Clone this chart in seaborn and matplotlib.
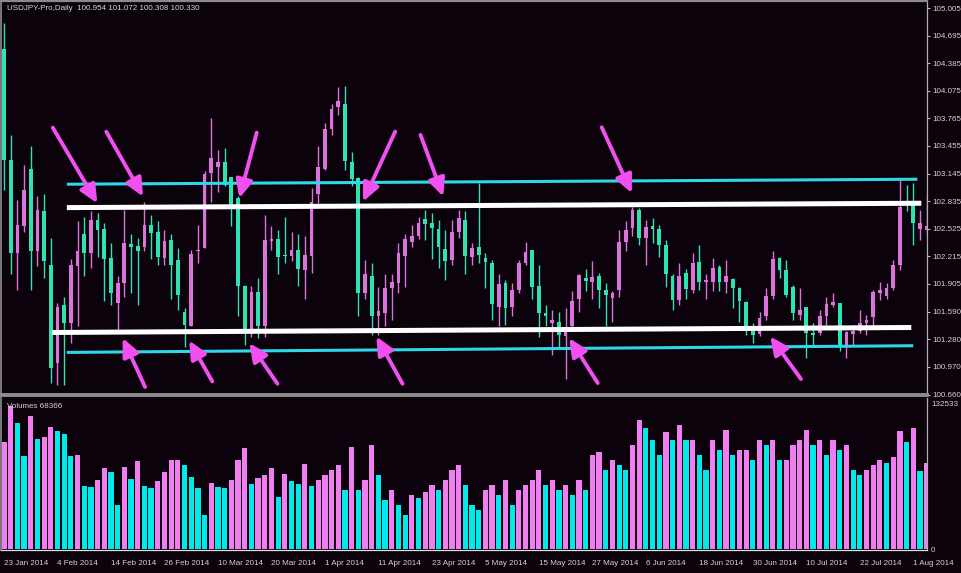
import numpy as np
import pandas as pd
import seaborn as sns
import matplotlib
matplotlib.use("Agg")
import matplotlib.pyplot as plt

# 日线K线数据
opens = [104.55, 103.30, 102.25, 102.55, 103.20, 102.27, 102.72, 102.12, 101.01, 101.67,
         101.46, 102.10, 102.47, 102.25, 102.62, 102.52, 102.19, 101.69, 101.91, 102.35,
         102.33, 102.32, 102.57, 102.49, 102.19, 102.40, 102.17, 101.59, 101.43, 102.27,
         102.31, 103.15, 103.22, 103.28, 103.11, 102.87, 101.88, 101.39, 101.81, 101.43,
         102.39, 102.41, 102.23, 102.22, 102.29, 102.06, 102.22, 102.92, 103.20, 103.65,
         103.89, 103.93, 103.28, 103.10, 101.80, 101.99, 101.54, 101.58, 101.86, 101.91,
         102.22, 102.38, 102.44, 102.63, 102.59, 102.52, 102.30, 102.17, 102.49, 102.62,
         102.21, 102.32, 102.19, 102.14, 101.65, 101.91, 101.65, 101.84, 102.14, 102.28,
         101.88, 101.58, 101.47, 101.48, 101.32, 101.43, 101.73, 101.97, 101.93, 101.99,
         101.84, 101.75, 101.84, 102.38, 102.53, 102.74, 102.42, 102.55, 102.52, 102.34,
         101.99, 101.72, 102.03, 101.84, 102.15, 101.92, 101.93, 102.09, 101.92, 101.96,
         101.86, 101.70, 101.37, 101.34, 101.54, 101.77, 102.20, 102.06, 101.87, 101.55,
         101.64, 101.35, 101.35, 101.54, 101.67, 101.69, 101.22, 101.34, 101.38, 101.46,
         101.53, 101.80, 101.77, 101.86, 102.12, 102.83, 102.83, 102.52, 102.51]
highs = [104.84, 103.58, 102.85, 103.24, 103.45, 102.89, 102.92, 102.42, 101.69, 101.76,
         102.18, 102.61, 102.66, 102.72, 102.70, 102.59, 102.36, 101.99, 102.74, 102.47,
         102.42, 102.83, 102.68, 102.61, 102.51, 102.46, 102.31, 101.63, 102.29, 102.57,
         103.17, 103.77, 103.41, 103.43, 103.11, 102.89, 101.89, 101.88, 101.97, 102.68,
         102.55, 102.51, 102.66, 102.49, 102.47, 102.44, 102.98, 103.45, 103.71, 103.93,
         104.12, 104.13, 103.39, 103.11, 102.17, 102.14, 101.87, 102.02, 102.01, 102.36,
         102.47, 102.57, 102.66, 102.74, 102.70, 102.62, 102.51, 102.62, 102.74, 102.72,
         102.36, 103.04, 102.25, 102.17, 102.01, 101.95, 101.91, 102.17, 102.38, 102.29,
         102.12, 101.67, 101.61, 101.59, 101.63, 101.82, 102.01, 102.07, 102.16, 102.03,
         101.91, 101.82, 102.51, 102.61, 102.77, 102.76, 102.62, 102.64, 102.57, 102.40,
         102.01, 102.14, 102.07, 102.25, 102.34, 102.01, 102.19, 102.12, 102.17, 101.97,
         101.87, 101.71, 101.46, 101.59, 101.86, 102.27, 102.21, 102.17, 101.89, 101.86,
         101.65, 101.46, 101.61, 101.76, 101.80, 101.69, 101.37, 101.44, 101.61, 101.56,
         101.84, 101.93, 101.91, 102.17, 103.07, 103.02, 103.04, 102.74, 102.92]
lows = [102.96, 102.01, 101.84, 102.49, 101.84, 102.10, 101.97, 100.79, 100.77, 100.77,
        101.24, 101.43, 101.99, 102.08, 102.21, 101.71, 101.67, 101.39, 101.76, 101.80,
        101.67, 102.27, 102.18, 102.12, 102.12, 101.73, 101.61, 101.20, 101.43, 102.14,
        102.31, 102.83, 102.94, 103.00, 102.55, 101.54, 101.22, 101.31, 101.30, 101.31,
        102.29, 102.01, 102.14, 102.16, 101.88, 101.73, 102.03, 102.81, 103.18, 103.58,
        103.80, 103.19, 103.00, 101.54, 101.73, 101.33, 101.33, 101.43, 101.50, 101.80,
        101.87, 102.32, 102.41, 102.40, 102.18, 102.08, 101.95, 102.12, 102.42, 102.01,
        102.12, 102.14, 101.86, 101.50, 101.43, 101.44, 101.54, 101.80, 102.12, 101.73,
        101.31, 101.43, 101.11, 101.18, 100.83, 101.39, 101.59, 101.82, 101.73, 101.63,
        101.43, 101.48, 101.76, 102.27, 102.44, 102.34, 102.12, 102.36, 102.21, 101.87,
        101.61, 101.67, 101.73, 101.80, 101.84, 101.74, 101.82, 101.82, 101.80, 101.63,
        101.48, 101.33, 101.24, 101.32, 101.50, 101.74, 101.97, 101.76, 101.50, 101.50,
        101.07, 101.22, 101.33, 101.44, 101.65, 101.15, 101.07, 101.22, 101.35, 101.33,
        101.44, 101.72, 101.74, 101.84, 102.06, 102.72, 102.34, 102.40, 102.45]
closes = [103.30, 102.25, 102.57, 102.96, 102.27, 102.74, 102.16, 100.96, 101.65, 101.46,
          102.12, 102.27, 102.25, 102.62, 102.51, 102.18, 101.80, 101.91, 102.36, 102.32,
          102.27, 102.57, 102.48, 102.21, 102.39, 102.12, 101.78, 101.44, 102.24, 102.29,
          103.14, 103.32, 103.28, 103.02, 102.79, 101.88, 101.35, 101.81, 101.43, 102.40,
          102.41, 102.21, 102.22, 102.28, 102.07, 102.23, 102.83, 103.22, 103.65, 103.87,
          103.96, 103.29, 103.08, 101.80, 102.01, 101.54, 101.60, 101.86, 101.92, 102.25,
          102.41, 102.44, 102.59, 102.58, 102.53, 102.32, 102.16, 102.49, 102.65, 102.22,
          102.31, 102.23, 102.15, 101.68, 101.90, 101.63, 101.83, 102.14, 102.26, 101.87,
          101.58, 101.54, 101.50, 101.33, 101.37, 101.71, 102.00, 101.94, 101.98, 101.84,
          101.78, 101.80, 102.37, 102.51, 102.74, 102.42, 102.54, 102.52, 102.34, 102.02,
          101.72, 101.99, 101.85, 102.14, 101.93, 101.95, 102.08, 101.93, 101.99, 101.86,
          101.71, 101.43, 101.33, 101.52, 101.77, 102.18, 102.06, 101.78, 101.58, 101.61,
          101.35, 101.33, 101.54, 101.68, 101.70, 101.22, 101.36, 101.38, 101.46, 101.50,
          101.81, 101.84, 101.86, 102.12, 102.77, 102.79, 102.59, 102.59, 102.56]
volumes = [98100, 130700, 115440, 85280, 121840, 100540, 102640, 111230, 108130, 105380,
           85280, 85920, 57580, 56390, 63070, 73760, 70100, 40220, 75220, 63980,
           80710, 57580, 56030, 62430, 70650, 81350, 81500, 76780, 65530, 55480,
           31080, 60600, 56940, 56030, 63070, 81350, 92040, 59410, 65170, 67640,
           73760, 47250, 68550, 62430, 59140, 77690, 57580, 63070, 67640, 72210,
           76780, 53930, 93230, 53930, 63070, 95060, 67640, 44790, 53930, 40220,
           31080, 49360, 46610, 52100, 58500, 53930, 63070, 72210, 76780, 58500,
           40220, 35650, 53930, 58500, 49360, 63070, 40220, 53930, 58500, 63070,
           72210, 58500, 63070, 53930, 58500, 49360, 63070, 53930, 85920, 88660,
           72210, 81350, 76780, 72210, 95060, 117910, 110590, 99630, 85920, 106940,
           99630, 113340, 99630, 99630, 85920, 72210, 99630, 90490, 108770, 85920,
           90490, 90490, 81350, 99630, 95060, 99630, 81350, 81350, 95060, 99630,
           108770, 95060, 99630, 85920, 99630, 90490, 95060, 72210, 67640, 72210,
           76780, 81350, 78880, 84360, 108130, 97520, 110320, 71570, 78880]

# 横轴日期标签, 每8根K线一个
date_labels = ["23 Jan 2014", "4 Feb 2014", "14 Feb 2014", "26 Feb 2014", "10 Mar 2014",
               "20 Mar 2014", "1 Apr 2014", "11 Apr 2014", "23 Apr 2014", "5 May 2014",
               "15 May 2014", "27 May 2014", "6 Jun 2014", "18 Jun 2014", "30 Jun 2014",
               "10 Jul 2014", "22 Jul 2014", "1 Aug 2014"]
price_labels = ["100.660", "100.970", "101.280", "101.590", "101.905", "102.215", "102.525",
                "102.835", "103.145", "103.455", "103.765", "104.075", "104.385", "104.695",
                "105.005"]

# 手画的水平通道线: (起点K线, 起点价, 终点K线, 终点价)
cyan_lines = [(9.4, 103.025, 136.6, 103.081), (9.4, 101.134, 136.0, 101.209)]
white_lines = [(9.4, 102.762, 137.2, 102.811), (7.2, 101.358, 135.7, 101.414)]
# 箭头: (尾K线, 尾价, 头K线, 头价)
arrows = [(7.3, 103.661, 13.95, 102.811), (15.3, 103.616, 20.8, 102.886),
          (37.8, 103.605, 35.2, 102.868), (58.5, 103.616, 53.7, 102.830),
          (62.3, 103.579, 65.7, 102.886), (89.4, 103.665, 93.9, 102.924),
          (21.1, 100.745, 17.75, 101.295), (31.15, 100.808, 27.7, 101.268),
          (40.9, 100.782, 36.7, 101.239), (59.6, 100.782, 55.7, 101.313),
          (88.8, 100.790, 84.55, 101.295), (119.2, 100.835, 114.6, 101.313)]

BG = "#0b020b"
PINK = "#dc72dc"
TEAL = "#2fe2b4"
TXT = "#d4d4d4"

sns.set_style("dark")
plt.rcParams['font.family'] = ['Liberation Sans', 'DejaVu Sans']

df = pd.DataFrame({"o": opens, "h": highs, "l": lows, "c": closes, "v": volumes})
df["bar"] = np.arange(len(df))
df["col"] = np.where(df["c"] >= df["o"], PINK, TEAL)
df["vdir"] = np.where(df["v"].diff().fillna(1) >= 0, "up", "down")

W, H = 962, 573
fig = plt.figure(figsize=(W / 100, H / 100), dpi=100, facecolor=BG)
ax = fig.add_axes([1 / W, 1 - 395 / H, 926 / W, 394 / H], facecolor=BG)
axv = fig.add_axes([1 / W, 1 - 550 / H, 926 / W, 152 / H], facecolor=BG)

# K线
ax.vlines(df["bar"], df["l"], df["h"], colors=df["col"], lw=1.0, zorder=2)
body = (df["c"] - df["o"]).abs().clip(lower=0.01)
ax.bar(df["bar"], body, bottom=df[["o", "c"]].min(axis=1), width=0.56,
       color=df["col"], linewidth=0, zorder=3)

for x0, y0, x1, y1 in cyan_lines:
    ax.plot([x0, x1], [y0, y1], color="#2ed8e8", lw=2.2, solid_capstyle="butt", zorder=4)
for x0, y0, x1, y1 in white_lines:
    ax.plot([x0, x1], [y0, y1], color="white", lw=3.6, solid_capstyle="butt", zorder=4)
for x0, y0, x1, y1 in arrows:
    ax.annotate("", xy=(x1, y1), xytext=(x0, y0),
                arrowprops=dict(arrowstyle="-|>,head_length=0.9,head_width=0.42",
                                color="#f050f0", lw=2.8, mutation_scale=12,
                                shrinkA=0, shrinkB=0), zorder=5)

xlim = (-0.45, 138.05)
ax.set_xlim(xlim)
ax.set_ylim(100.655, 105.085)
ax.set_xticks([])
ax.yaxis.tick_right()
ax.set_yticks([float(p) for p in price_labels])
ax.set_yticklabels(price_labels)
ax.tick_params(axis="y", colors="#bbbbbb", labelcolor=TXT, labelsize=5.8, length=2, pad=2)
ax.grid(False)

# 成交量
sns.barplot(data=df, x="bar", y="v", hue="vdir", palette={"up": "#f07ef0", "down": "#00eaea"},
            native_scale=True, dodge=False, width=0.78, saturation=1, errorbar=None,
            legend=False, linewidth=0, ax=axv)
axv.set_xlim(xlim)
axv.set_ylim(-900, 138000)
axv.set_xlabel("")
axv.set_ylabel("")
axv.yaxis.tick_right()
axv.set_yticks([0, 132533])
axv.set_yticklabels(["0", "132533"])
axv.tick_params(axis="y", length=0, labelcolor=TXT, labelsize=5.8, pad=3)
axv.set_xticks(np.arange(0, len(df), 8)[:len(date_labels)])
axv.set_xticklabels(date_labels, ha="left")
axv.tick_params(axis="x", colors="#dddddd", labelcolor=TXT, labelsize=5.8,
                length=3, width=0.8, pad=4)
axv.grid(False)

for a in (ax, axv):
    for s in a.spines.values():
        s.set_visible(True)
    a.spines["left"].set_color("#7a7a7a")
    a.spines["left"].set_linewidth(1.4)
    a.spines["right"].set_color("#b0b0b0")
    a.spines["right"].set_linewidth(0.9)
ax.spines["top"].set_color("#8a8a8a")
ax.spines["top"].set_linewidth(1.6)
ax.spines["bottom"].set_color("#8c8c8c")
ax.spines["bottom"].set_linewidth(2.8)
axv.spines["top"].set_visible(False)
axv.spines["bottom"].set_color("#e0e0e0")
axv.spines["bottom"].set_linewidth(0.9)

fig.text(7 / W, 1 - 9 / H, "USDJPY-Pro,Daily  100.954 101.072 100.308 100.330",
         color=TXT, fontsize=5.8, va="center", ha="left")
fig.text(7 / W, 1 - 406 / H, "Volumes 68366", color=TXT, fontsize=5.8, va="center", ha="left")

fig.savefig("out.png", dpi=100, facecolor=BG)
